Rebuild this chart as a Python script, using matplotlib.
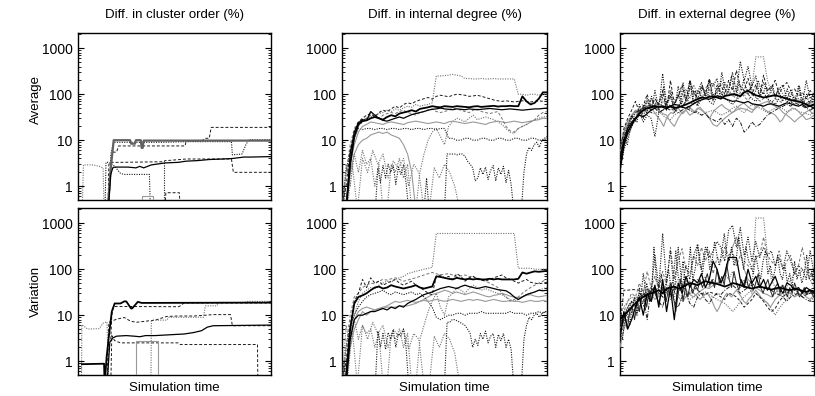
import numpy as np
import matplotlib
matplotlib.use("Agg")
import matplotlib.pyplot as plt
from matplotlib.ticker import LogLocator, FixedLocator, FixedFormatter, NullFormatter

plt.rcParams['font.family'] = ['Liberation Sans', 'DejaVu Sans']

col_titles = ["Diff. in cluster order (%)", "Diff. in internal degree (%)", "Diff. in external degree (%)"]
row_labels = ["Average", "Variation"]
x_label = "Simulation time"
ytick_values = [1, 10, 100, 1000]
ytick_labels = ["1", "10", "100", "1000"]
nan = float('nan')

# ---------------- cluster order, Average (x, y breakpoints) ----------------
co_avg_A_x = [15.5, 16.5, 17.5, 18.5, 27, 27.5, 29.5, 30, 32.5, 33, 33.5, 34, 100]
co_avg_A_y = [0.3, 1.5, 4, 10, 10, 8.4, 8.4, 10, 10, 6.8, 6.8, 9.8, 9.8]
co_avg_B_x = [15, 16, 17, 18.5, 20, 45, 56, 79.5, 80, 85, 87, 88.5, 100]
co_avg_B_y = [0.3, 0.3, 5, 9, 9.0, 9.0, 9.3, 9.3, 4.8, 5, 8, 10.2, 10.2]
co_avg_C_x = [16, 17, 18, 20, 21, 55.5, 56, 64, 66, 68, 69, 100]
co_avg_C_y = [0.3, 3.3, 5.5, 5.5, 7.5, 7.5, 9.6, 9.6, 11, 11, 19, 19]
co_avg_D_x = [15, 16, 17, 18, 19, 22, 26, 30, 32, 34, 38, 45, 52, 56, 62, 68, 75, 80, 86, 90, 100]
co_avg_D_y = [0.3, 0.5, 1.8, 2.5, 2.6, 2.6, 2.6, 2.5, 2.7, 2.5, 2.9, 3.2, 3.3, 3.5, 3.6, 3.8, 3.9, 4.0, 4.3, 4.3, 4.4]
co_avg_E_x = [15.5, 16, 17, 22, 44.7, 45, 46, 56, 79.5, 80.5, 100]
co_avg_E_y = [0.3, 3.0, 3.3, 3.3, 3.4, 3.6, 3.6, 3.9, 3.9, 2.0, 2.0]
co_avg_F_x = [2.2, 2.8, 8, 11, 13, 13.5]
co_avg_F_y = [0.3, 2.9, 2.9, 2.7, 2.5, 0.3]
co_avg_G_x = [14, 14.5, 16, 19, 22, 24, 37, 37.5]
co_avg_G_y = [0.3, 3.3, 3.3, 2.7, 1.9, 1.8, 1.8, 0.3]
co_avg_H_x = [44.7, 44.7]
co_avg_H_y = [0.3, 3.4]
co_avg_I_x = [33, 33, 39, 39]
co_avg_I_y = [0.3, 0.6, 0.6, 0.3]
co_avg_J_x = [45, 45.5, 52.5, 53]
co_avg_J_y = [0.3, 0.72, 0.72, 0.3]

# ---------------- cluster order, Variation ----------------
co_var_A_x = [2, 13.5, 13.8, 14.8, 16, 17.5, 19, 22, 24, 25, 27.5, 28, 31, 33, 100]
co_var_A_y = [0.86, 0.88, 0.3, 1.2, 3.5, 12, 18, 18, 20, 20, 14, 14, 19.5, 18.5, 18.8]
co_var_B_x = [17, 17.5, 18.5, 52, 53, 55, 100]
co_var_B_y = [3, 10, 15.5, 15.3, 16, 18.5, 18.5]
co_var_C_x = [15, 16.5, 18, 20, 25, 29, 32, 35, 40, 45, 50, 55, 60, 64, 67, 70, 100]
co_var_C_y = [0.3, 2.6, 3.2, 3.5, 3.6, 3.5, 3.4, 3.6, 3.6, 3.7, 3.8, 3.9, 4.2, 4.6, 5.5, 5.9, 6.1]
co_var_D_x = [37.8, 38, 38.5, 46, 47, 65, 66, 72, 73, 86, 88, 100]
co_var_D_y = [0.3, 7.4, 7.8, 7.8, 9, 9, 16, 16, 19, 19, 20, 20]
co_var_E_x = [15, 16, 20, 24, 27, 30, 35, 40, 46, 52, 60, 66, 70, 79, 80, 100]
co_var_E_y = [0.3, 7, 8.2, 8.9, 7.5, 7, 7.4, 7.8, 9.4, 9.6, 9.6, 10, 10.3, 10.3, 5.9, 5.9]
co_var_F_x = [1.8, 2, 5, 11, 13, 15, 16]
co_var_F_y = [0.3, 6.2, 5.0, 5.1, 6.7, 7.2, 0.3]
co_var_G_x = [17, 17.5, 19, 22, 52, 53, 93, 93.2]
co_var_G_y = [0.3, 3.6, 2.8, 2.5, 2.5, 2.3, 2.3, 0.3]
co_var_H_x = [30.2, 30.2, 41.5, 41.5]
co_var_H_y = [0.3, 2.8, 2.8, 0.3]

# ---------------- internal degree, Average (samples evenly spread over time) ----------------
in_avg_1 = [0.3, 0.3, 3, 12, 22, 26, 27, 30, 32, 30, 28, 32, 35, 33, 38, 40, 42, 45, 42, 48, 50, 52, 55, 53, 52, 55, 54, 53, 55, 54, 53, 52, 54, 55, 53, 54, 55, 56, 54, 55, 55, 56, 55, 55, 90, 70, 60, 65, 80, 110, 110]
in_avg_2 = [0.3, 0.3, 5, 15, 24, 28, 27, 42, 35, 30, 27, 26, 28, 30, 32, 30, 33, 36, 38, 40, 42, 45, 47, 48, 50, 48, 47, 46, 48, 47, 46, 48, 47, 46, 47, 48, 49, 48, 47, 46, 47, 48, 47, 46, 45, 46, 47, 48, 48, 49, 50]
in_avg_3 = [0.3, 0.3, 4, 10, 20, 25, 30, 32, 35, 38, 40, 45, 42, 48, 45, 50, 55, 52, 60, 55, 58, 60, 65, 250, 250, 255, 260, 270, 260, 250, 220, 220, 215, 215, 220, 215, 215, 220, 215, 215, 215, 215, 215, 100, 100, 95, 100, 100, 95, 100, 100]
in_avg_4 = [0.3, 1, 6, 15, 25, 30, 35, 38, 32, 40, 45, 42, 48, 55, 50, 60, 65, 62, 70, 75, 80, 85, 78, 90, 95, 92, 88, 95, 100, 98, 95, 90, 92, 95, 90, 85, 80, 75, 72, 70, 72, 70, 68, 70, 72, 70, 68, 70, 72, 70, 70]
in_avg_5 = [0.3, 0.5, 3, 8, 15, 20, 22, 25, 24, 23, 22, 24, 25, 24, 23, 22, 24, 25, 26, 25, 24, 23, 24, 25, 24, 23, 25, 26, 25, 24, 23, 24, 25, 24, 23, 22, 24, 25, 26, 25, 24, 25, 26, 25, 24, 25, 26, 27, 28, 30, 30]
in_avg_6 = [0.3, 2, 6, 12, 18, 17, 18, 18, 17, 18, 18, 17, 18, 18, 17, 18, 18, 17, 18, 18, 17, 18, 18, 17, 18, 18, 11, 11, 10, 10, 11, 11, 10, 10, 11, 11, 10, 10, 11, 11, 10, 10, 11, 11, 10, 10, 11, 11, 10, 10, 11]
in_avg_7 = [0.3, 0.3, 0.3, 0.3, 0.3, 0.3, 0.3, 0.3, 0.3, 0.3, 0.3, 0.3, 0.3, 0.3,
            2.5, 1.2, 2.8, 1.5, 3, 2, 2.8, 1.1, 2.6, 1.8, 2.9, 1.2,
            0.3, 0.3, 0.3, 0.3, 0.3, 0.3, 0.3, 1.5, 0.3, 0.3, 0.3, 0.3, 0.3, 0.3, 0.3,
            5, 5, 5, 5, 4.8, 5, 5, 4.5,
            3.5, 3, 2.5, 1.3, 1.5, 2.5, 1.8, 2.6, 1.4, 2.2, 2.8, 1.3, 2.5, 1.8, 2.7, 1.2,
            2.2, 1.1, 0.3, 0.3, 0.3, 0.3,
            2, 5, 7, 6, 8, 9, 7, 10, 11, 12]
in_avg_8 = [0.3, 3, 1, 5, 2, 6, 3, 4, 1, 3, 0.3, 0.3, 3, 2, 4, 1.5, 3, 0.3, 0.3, 2, 5, 10, 15, 18, 12, 8, 20, 25, 30, 28, 25, 30, 35, 28, 30, 32, 30, 28, 25, 22, 18, 15, 14, 18, 20, 22, 25, 28, 30, 32, 33]
in_avg_9 = [0.3, 0.3, 2, 5, 8, 10, 11, 13, 14, 15, 14, 15, 13, 12, 11, 8, 5, 2, 0.3, nan, nan, nan, nan, nan, nan, nan, nan, nan, nan, nan, nan, nan, nan, nan, nan, nan, nan, nan, nan, nan, nan, nan, nan, nan, nan, nan, nan, nan, nan, nan, nan]
in_avg_10 = [0.3, 2, 8, 18, 25, 28, 30, 35, 32, 30, 35, 38, 40, 38, 42, 45, 40, 38, 35, 40, 42, 45, 48, 42, 40, 42, 45, 50, 48, 45, 42, 40, 45, 48, 42, 40, 38, 40, 42, 30, 20, 16, 15, 18, 20, 22, 25, 28, 35, 40, 42]
in_avg_11 = [0.3, 0.3, 3, 0.3, 4, 2, 6, 3, 5, 1.5, 3.5, 2.5, 4, 1, 3, 2, 0.3, 0.3, 2.5, 1.5, 3, 2, 1, 0.3, nan, nan, nan, nan, nan, nan, nan, nan, nan, nan, nan, nan, nan, nan, nan, nan, nan]

# ---------------- internal degree, Variation ----------------
in_var_1 = [0.3, 0.5, 5, 18, 25, 27, 30, 35, 40, 42, 38, 40, 45, 42, 40, 38, 40, 42, 45, 40, 38, 40, 42, 70, 68, 65, 62, 60, 65, 62, 60, 62, 60, 62, 60, 60, 62, 60, 62, 60, 60, 60, 60, 62, 85, 80, 85, 90, 88, 90, 92]
in_var_2 = [0.3, 0.3, 3, 8, 10, 10, 11, 12, 12, 13, 14, 13, 15, 14, 16, 15, 18, 20, 22, 25, 28, 30, 32, 35, 38, 40, 42, 40, 38, 42, 45, 42, 40, 38, 40, 42, 40, 38, 36, 35, 34, 30, 25, 22, 25, 28, 30, 32, 35, 34, 35]
in_var_3 = [0.3, 0.3, 4, 10, 20, 30, 35, 40, 38, 45, 50, 55, 52, 60, 65, 70, 80, 85, 90, 95, 100, 105, 110, 600, 600, 600, 600, 600, 600, 600, 600, 600, 600, 600, 600, 600, 600, 600, 600, 600, 600, 600, 600, 105, 105, 105, 105, 100, 100, 100, 100]
in_var_4 = [0.3, 1, 6, 20, 30, 60, 40, 65, 50, 55, 45, 50, 55, 60, 50, 45, 50, 55, 45, 40, 35, 30, 28, 70, 75, 65, 70, 60, 80, 70, 55, 65, 70, 60, 58, 55, 60, 65, 70, 75, 65, 60, 55, 50, 55, 60, 52, 50, 48, 50, 52]
in_var_5 = [0.3, 0.5, 3, 8, 12, 14, 15, 14, 13, 14, 15, 16, 18, 20, 19, 20, 21, 20, 19, 20, 21, 20, 21, 22, 21, 20, 21, 22, 21, 20, 21, 22, 21, 22, 21, 20, 21, 22, 21, 20, 20, 21, 20, 20, 19, 20, 21, 20, 20, 21, 20]
in_var_6 = [0.3, 2, 6, 10, 15, 20, 25, 28, 30, 32, 35, 30, 28, 32, 30, 28, 30, 32, 28, 30, 25, 20, 15, 9, 8, 9, 10, 10, 11, 11, 10, 11, 11, 11, 12, 11, 11, 11, 11, 11, 11, 12, 11, 11, 11, 10, 11, 11, 12, 11, 12]
in_var_7 = [0.3, 0.3, 0.3, 0.3, 0.3, 0.3, 0.3, 0.3, 0.3, 0.3, 0.3, 0.3, 0.3, 0.3,
            4.5, 2, 4, 1.8, 4.2, 3, 4.8, 2, 4, 3.5, 5, 2,
            0.3, 0.3, 0.3, 0.3, 0.3, 0.3, 0.3, 0.3, 0.3, 0.3, 0.3, 0.3, 0.3, 0.3, 0.3,
            7, 7, 8, 8, 7.5, 7, 6.5, 6,
            5, 4, 2, 3, 2.2, 4, 3, 4.5, 2.5, 3.5, 4, 2, 3.8, 2.8, 4, 2,
            3, 1.8, 0.3, 0.3, 0.3, 0.3,
            3, 6, 9, 8, 10, 11, 9, 11, 12, 12]
in_var_8 = [0.3, 6, 2, 8, 3, 6, 4, 5, 2, 4, 0.3, 0.3, 4, 3, 5, 2, 4, 0.3, 0.3, 3, 6, 12, 20, 30, 15, 10, 25, 30, 40, 35, 30, 38, 45, 40, 35, 38, 35, 32, 30, 28, 25, 22, 20, 22, 25, 28, 30, 32, 35, 38, 40]
in_var_9 = [0.3, 0.3, 2, 5, 8, 12, 10, 12, 13, 14, 14, 15, 15, 15, 16, 16, 16, 17, 18, 20, 22, 25, 28, 30, 32, 35, 33, 30, 32, 30, 28, 30, 32, 30, 28, 26, 25, 27, 28, 30, 28, 26, 25, 24, 25, 27, 28, 26, 25, 26, 27]
in_var_10 = [0.3, 2, 10, 25, 30, 40, 45, 50, 48, 55, 60, 58, 62, 65, 60, 55, 58, 62, 65, 70, 75, 80, 85, 80, 75, 78, 80, 75, 70, 72, 75, 70, 68, 65, 60, 55, 50, 45, 40, 30, 25, 20, 22, 25, 30, 35, 40, 45, 50, 55, 60]
in_var_11 = [0.3, 0.3, 5, 0.3, 6, 3, 7, 4, 6, 2, 5, 3.5, 5, 1.8, 4, 3, 0.3, 0.3, 3.5, 2, 4, 3, 1.5, 0.3, nan, nan, nan, nan, nan, nan, nan, nan, nan, nan, nan, nan, nan, nan, nan, nan, nan]

# ---------------- external degree, Average ----------------
ex_avg_1 = [2.5, 8, 15, 22, 30, 38, 45, 50, 52, 55, 53, 55, 52, 54, 50, 52, 55, 60, 65, 72, 78, 85, 82, 88, 90, 85, 80, 92, 95, 100, 98, 90, 110, 120, 105, 95, 90, 85, 88, 92, 95, 90, 85, 80, 75, 72, 70, 65, 60, 55, 60]
ex_avg_2 = [4, 10, 18, 25, 30, 35, 32, 38, 45, 50, 55, 52, 48, 55, 60, 58, 52, 50, 55, 62, 70, 75, 80, 78, 85, 92, 88, 80, 75, 70, 72, 68, 65, 70, 62, 60, 58, 55, 60, 62, 58, 55, 60, 65, 62, 58, 55, 60, 52, 55, 50]
ex_avg_3 = [3, 12, 20, 35, 25, 60, 30, 80, 40, 120, 50, 280, 60, 90, 45, 150, 55, 70, 200, 60, 110, 180, 90, 200, 150, 220, 80, 180, 120, 300, 110, 520, 200, 400, 150, 250, 90, 180, 120, 150, 90, 130, 160, 80, 120, 70, 150, 60, 200, 80, 100]
ex_avg_4 = [6, 15, 25, 30, 40, 35, 50, 45, 55, 60, 45, 70, 55, 90, 60, 100, 70, 130, 80, 160, 100, 140, 120, 90, 180, 100, 200, 130, 110, 90, 150, 110, 90, 120, 140, 650, 650, 650, 200, 110, 90, 140, 100, 80, 70, 90, 60, 80, 55, 60, 70]
ex_avg_5 = [2, 10, 20, 30, 40, 45, 50, 55, 45, 50, 40, 45, 50, 45, 48, 40, 45, 50, 45, 40, 42, 35, 38, 30, 28, 25, 30, 22, 28, 20, 30, 25, 15, 18, 25, 20, 22, 28, 35, 40, 45, 50, 55, 60, 55, 65, 60, 55, 50, 45, 50]
ex_avg_6 = [3, 8, 20, 35, 45, 40, 50, 55, 60, 50, 45, 38, 35, 25, 20, 30, 40, 45, 35, 40, 50, 45, 38, 30, 22, 20, 25, 30, 35, 40, 45, 50, 48, 45, 40, 55, 60, 65, 70, 60, 55, 50, 40, 35, 30, 25, 30, 35, 28, 30, 35]
ex_avg_7 = [5, 18, 30, 45, 70, 40, 55, 100, 50, 80, 60, 120, 45, 200, 60, 90, 160, 70, 200, 110, 80, 150, 100, 220, 70, 130, 160, 100, 200, 120, 330, 150, 120, 220, 100, 160, 90, 260, 120, 140, 200, 100, 150, 180, 120, 130, 90, 110, 80, 120, 100]
ex_avg_8 = [2, 6, 12, 20, 28, 40, 25, 35, 30, 12, 40, 45, 50, 60, 40, 55, 70, 60, 50, 75, 55, 80, 100, 70, 60, 90, 110, 85, 70, 60, 75, 90, 120, 100, 80, 70, 90, 110, 80, 70, 60, 80, 90, 70, 65, 75, 80, 70, 60, 70, 65]
ex_avg_9 = [8, 14, 22, 30, 35, 38, 42, 45, 40, 38, 42, 35, 30, 28, 35, 40, 38, 45, 50, 42, 38, 35, 40, 42, 45, 40, 35, 38, 42, 50, 55, 45, 40, 50, 60, 55, 50, 45, 40, 45, 50, 55, 48, 42, 45, 50, 42, 40, 38, 35, 40]
ex_avg_10 = [3, 5, 10, 8, 15, 20, 30, 25, 45, 35, 60, 40, 55, 90, 50, 70, 45, 60, 150, 60, 80, 120, 50, 70, 100, 60, 180, 90, 70, 200, 80, 120, 60, 90, 150, 100, 80, 200, 110, 90, 160, 120, 300, 150, 100, 130, 250, 110, 90, 180, 120, 200, 140, 100, 160, 90, 120, 200, 130, 100, 150, 90, 110, 160, 80, 120, 100, 70, 90, 130, 80, 110, 70, 90, 150, 80, 70, 100, 60, 80, 90]
ex_avg_11 = [5, 10, 18, 25, 30, 35, 40, 45, 38, 50, 45, 40, 55, 48, 42, 35, 30, 25, 20, 28, 35, 40, 38, 45, 50, 42, 38, 45, 55, 50, 45, 40, 48, 52, 45, 40, 35, 30, 38, 45, 50, 55, 60, 52, 48, 45, 40, 42, 50, 55, 60, 65, 58, 52, 48, 45, 50, 55, 60, 50, 45, 42, 40, 38, 35, 30, 25, 28, 35, 40, 45, 50, 48, 45, 40, 35, 38, 42, 45, 40, 38]
ex_avg_12 = [4, 8, 15, 20, 28, 35, 42, 38, 50, 60, 55, 70, 60, 80, 65, 55, 70, 90, 75, 60, 85, 100, 80, 70, 90, 120, 95, 80, 100, 140, 110, 90, 120, 100, 85, 130, 150, 120, 100, 90, 110, 130, 100, 85, 95, 120, 100, 90, 80, 100, 110, 90, 80, 75, 90, 100, 85, 75, 70, 80, 90, 75, 65, 70, 80, 75, 70, 65, 60, 70, 75, 65, 60, 70, 65, 60, 55, 65, 70, 60, 55]

# ---------------- external degree, Variation ----------------
ex_var_1 = [8, 10, 12, 15, 18, 22, 25, 28, 30, 32, 35, 30, 38, 40, 42, 38, 40, 45, 50, 48, 45, 50, 55, 52, 50, 48, 45, 42, 45, 50, 48, 45, 42, 40, 38, 40, 42, 40, 38, 36, 38, 40, 38, 36, 35, 38, 36, 34, 32, 35, 33]
ex_var_2 = [3, 12, 5, 8, 15, 25, 10, 30, 20, 45, 15, 60, 12, 40, 8, 50, 30, 70, 40, 60, 50, 80, 40, 60, 150, 100, 50, 80, 180, 180, 180, 60, 40, 100, 50, 70, 40, 60, 35, 50, 70, 40, 30, 50, 45, 35, 40, 30, 40, 35, 30]
ex_var_3 = [5, 10, 15, 20, 18, 12, 80, 20, 30, 200, 40, 600, 50, 250, 30, 300, 40, 120, 60, 200, 350, 100, 300, 180, 250, 400, 300, 150, 700, 900, 300, 800, 200, 500, 150, 400, 180, 300, 200, 250, 120, 180, 100, 250, 150, 80, 120, 100, 60, 250, 80]
ex_var_4 = [10, 15, 20, 25, 20, 30, 25, 35, 40, 30, 45, 35, 40, 50, 45, 60, 40, 50, 55, 45, 60, 50, 70, 40, 60, 50, 45, 80, 60, 90, 50, 40, 60, 45, 30, 1300, 1300, 1300, 200, 60, 40, 30, 25, 40, 60, 80, 70, 100, 90, 60, 40]
ex_var_5 = [6, 35, 35, 36, 36, 35, 35, 36, 34, 40, 30, 25, 35, 28, 40, 30, 45, 35, 30, 40, 35, 30, 28, 32, 30, 28, 25, 22, 30, 28, 25, 20, 15, 18, 22, 30, 25, 20, 15, 12, 14, 20, 25, 30, 35, 40, 30, 25, 28, 30, 32]
ex_var_6 = [2, 5, 8, 12, 10, 15, 20, 25, 30, 22, 28, 35, 30, 25, 40, 45, 35, 30, 28, 25, 30, 35, 40, 38, 45, 50, 55, 60, 150, 300, 500, 250, 100, 60, 50, 40, 35, 30, 28, 25, 30, 40, 45, 35, 30, 25, 28, 30, 25, 22, 28]
ex_var_7 = [10, 8, 12, 20, 15, 30, 25, 8, 40, 30, 20, 15, 35, 45, 20, 15, 25, 30, 18, 15, 25, 30, 22, 18, 25, 30, 28, 35, 40, 45, 38, 30, 35, 40, 45, 50, 45, 38, 40, 35, 30, 28, 25, 20, 25, 28, 30, 25, 22, 20, 25]
ex_var_8 = [4, 6, 9, 12, 15, 18, 20, 22, 25, 28, 30, 25, 20, 22, 25, 28, 26, 24, 22, 25, 28, 30, 32, 28, 25, 22, 20, 18, 15, 12, 15, 20, 25, 30, 35, 30, 25, 22, 18, 14, 10, 14, 18, 22, 28, 30, 35, 32, 28, 30, 35]
ex_var_9 = [5, 12, 20, 30, 25, 50, 30, 90, 40, 70, 35, 90, 45, 300, 60, 150, 280, 100, 80, 200, 120, 300, 150, 250, 80, 180, 150, 300, 200, 250, 120, 200, 150, 120, 100, 180, 200, 500, 200, 150, 120, 250, 100, 150, 200, 80, 120, 300, 100, 80, 60]
ex_var_10 = [4, 3, 8, 12, 6, 15, 25, 10, 40, 20, 15, 50, 25, 30, 300, 60, 40, 80, 30, 50, 100, 40, 60, 250, 70, 50, 150, 40, 80, 300, 60, 100, 350, 120, 80, 200, 300, 100, 150, 400, 200, 120, 250, 600, 200, 150, 300, 120, 180, 500, 200, 100, 300, 150, 120, 80, 200, 100, 60, 150, 250, 80, 120, 60, 100, 200, 80, 60, 120, 50, 80, 40, 150, 60, 100, 50, 80, 200, 60, 90, 50]
ex_var_11 = [8, 6, 10, 5, 12, 15, 8, 20, 12, 25, 30, 15, 35, 20, 40, 25, 18, 30, 45, 20, 35, 50, 25, 12, 30, 60, 20, 40, 25, 50, 30, 45, 35, 60, 40, 55, 80, 45, 60, 40, 100, 50, 70, 45, 130, 60, 40, 90, 50, 35, 60, 45, 70, 40, 55, 35, 50, 80, 40, 30, 45, 60, 35, 25, 40, 50, 30, 45, 35, 25, 40, 30, 50, 35, 25, 30, 40, 28, 35, 30, 25]
ex_var_12 = [3, 6, 10, 14, 18, 15, 22, 25, 20, 28, 30, 25, 22, 28, 32, 30, 25, 28, 30, 35, 30, 25, 28, 30, 25, 22, 20, 25, 28, 30, 32, 28, 25, 22, 25, 28, 30, 25, 20, 15, 12, 15, 20, 25, 30, 28, 25, 30, 35, 30, 25, 20, 18, 22, 25, 30, 35, 30, 25, 22, 20, 18, 15, 18, 22, 25, 28, 30, 32, 35, 30, 28, 25, 30, 35, 32, 30, 28, 30, 32, 30]

# ---------------- styles ----------------
DOT = (0, (1, 1.2))
DASH = (0, (3, 2))
DASHDOT = (0, (4, 1.5, 1, 1.5))
S_THICK = dict(color='black', ls='-', lw=1.3, zorder=5)
S_BLACK = dict(color='black', ls='-', lw=0.9, zorder=4)
S_BLACKTHIN = dict(color='0.15', ls='-', lw=0.7, zorder=3)
S_GRAYTHICK = dict(color='0.38', ls='-', lw=1.6, zorder=4)
S_GRAY = dict(color='0.6', ls='-', lw=0.8, zorder=3)
S_DOTK = dict(color='0.1', ls=DOT, lw=0.8, zorder=3)
S_DOTG = dict(color='0.45', ls=DOT, lw=0.8, zorder=3)
S_DASHK = dict(color='0.1', ls=DASH, lw=0.7, zorder=3)
S_DASHG = dict(color='0.45', ls=DASH, lw=0.7, zorder=3)
S_DASHDOT = dict(color='0.1', ls=DASHDOT, lw=0.7, zorder=3)

co_avg = [(co_avg_F_x, co_avg_F_y, S_DOTG), (co_avg_G_x, co_avg_G_y, S_DOTK), (co_avg_H_x, co_avg_H_y, S_DOTK),
          (co_avg_I_x, co_avg_I_y, S_GRAY), (co_avg_J_x, co_avg_J_y, S_DASHK), (co_avg_E_x, co_avg_E_y, S_DASHK),
          (co_avg_C_x, co_avg_C_y, S_DASHK), (co_avg_A_x, co_avg_A_y, S_GRAYTHICK), (co_avg_B_x, co_avg_B_y, S_DOTK),
          (co_avg_D_x, co_avg_D_y, S_BLACK)]
co_var = [(co_var_F_x, co_var_F_y, S_DOTG), (co_var_G_x, co_var_G_y, S_DASHK), (co_var_H_x, co_var_H_y, S_GRAY),
          (co_var_E_x, co_var_E_y, S_DASHK), (co_var_D_x, co_var_D_y, S_DOTG), (co_var_B_x, co_var_B_y, S_DASHK),
          (co_var_C_x, co_var_C_y, S_BLACK), (co_var_A_x, co_var_A_y, S_THICK)]

in_avg = [(in_avg_11, S_DOTG), (in_avg_9, S_GRAY), (in_avg_8, S_DOTG), (in_avg_7, S_DOTK), (in_avg_6, S_DOTK),
          (in_avg_5, S_GRAY), (in_avg_10, S_DASHG), (in_avg_3, S_DOTG), (in_avg_4, S_DASHK), (in_avg_2, S_BLACK),
          (in_avg_1, S_THICK)]
in_var = [(in_var_11, S_DOTG), (in_var_9, S_GRAY), (in_var_8, S_DOTG), (in_var_7, S_DOTK), (in_var_6, S_DOTK),
          (in_var_5, S_GRAY), (in_var_10, S_DASHG), (in_var_3, S_DOTG), (in_var_4, S_DASHK), (in_var_2, S_BLACK),
          (in_var_1, S_THICK)]
ex_avg = [(ex_avg_9, S_DOTG), (ex_avg_11, S_GRAY), (ex_avg_6, S_GRAY), (ex_avg_4, S_DOTG), (ex_avg_5, S_DASHDOT),
          (ex_avg_12, S_DASHG), (ex_avg_8, S_DOTK), (ex_avg_7, S_DASHK), (ex_avg_10, S_DOTK), (ex_avg_3, S_DOTK),
          (ex_avg_2, S_BLACK), (ex_avg_1, S_THICK)]
ex_var = [(ex_var_8, S_DOTG), (ex_var_12, S_GRAY), (ex_var_6, S_GRAY), (ex_var_4, S_DOTG), (ex_var_5, S_DASHK),
          (ex_var_7, S_DASHDOT), (ex_var_9, S_DASHG), (ex_var_10, S_DOTK), (ex_var_3, S_DOTK),
          (ex_var_11, S_BLACKTHIN), (ex_var_2, S_BLACK), (ex_var_1, S_THICK)]

W, H = 815, 396
fig = plt.figure(figsize=(W / 100, H / 100), dpi=100)
col_left = [78, 342, 620]
col_w = [193, 205, 194]
row_top = [33, 208]
row_h = 167

axes = {}
for r in range(2):
    for c in range(3):
        ax = fig.add_axes([col_left[c] / W, 1 - (row_top[r] + row_h) / H, col_w[c] / W, row_h / H])
        ax.set_yscale('log')
        ax.set_xlim(0, 100)
        ax.set_ylim(0.5, 2150)
        ax.set_xticks([])
        ax.yaxis.set_major_locator(FixedLocator(ytick_values))
        ax.yaxis.set_major_formatter(FixedFormatter(ytick_labels))
        ax.yaxis.set_minor_locator(LogLocator(base=10, subs=np.arange(2, 10)))
        ax.yaxis.set_minor_formatter(NullFormatter())
        ax.tick_params(axis='y', which='both', direction='in', left=True, right=True, labelsize=10, pad=4)
        ax.tick_params(axis='y', which='major', length=4, width=0.8)
        ax.tick_params(axis='y', which='minor', length=2, width=0.6)
        for s in ax.spines.values():
            s.set_linewidth(1.0)
        axes[(r, c)] = ax

for xs, ys, st in co_avg:
    axes[(0, 0)].plot(xs, ys, **st)
for xs, ys, st in co_var:
    axes[(1, 0)].plot(xs, ys, **st)
for data, (r, c) in [(in_avg, (0, 1)), (in_var, (1, 1)), (ex_avg, (0, 2)), (ex_var, (1, 2))]:
    for ys, st in data:
        xs = np.linspace(0, 100, len(ys))
        axes[(r, c)].plot(xs, ys, **st)

for c in range(3):
    cx = (col_left[c] + col_w[c] / 2) / W
    fig.text(cx, 1 - 15 / H, col_titles[c], ha='center', va='center', fontsize=9.5)
    fig.text(cx, 1 - 388 / H, x_label, ha='center', va='center', fontsize=9.5)

fig.text(36 / W, 1 - 100 / H, row_labels[0], rotation=90, ha='center', va='center', fontsize=9.5)
fig.text(36 / W, 1 - 291 / H, row_labels[1], rotation=90, ha='center', va='center', fontsize=9.5)

fig.savefig("out.png", dpi=100)
